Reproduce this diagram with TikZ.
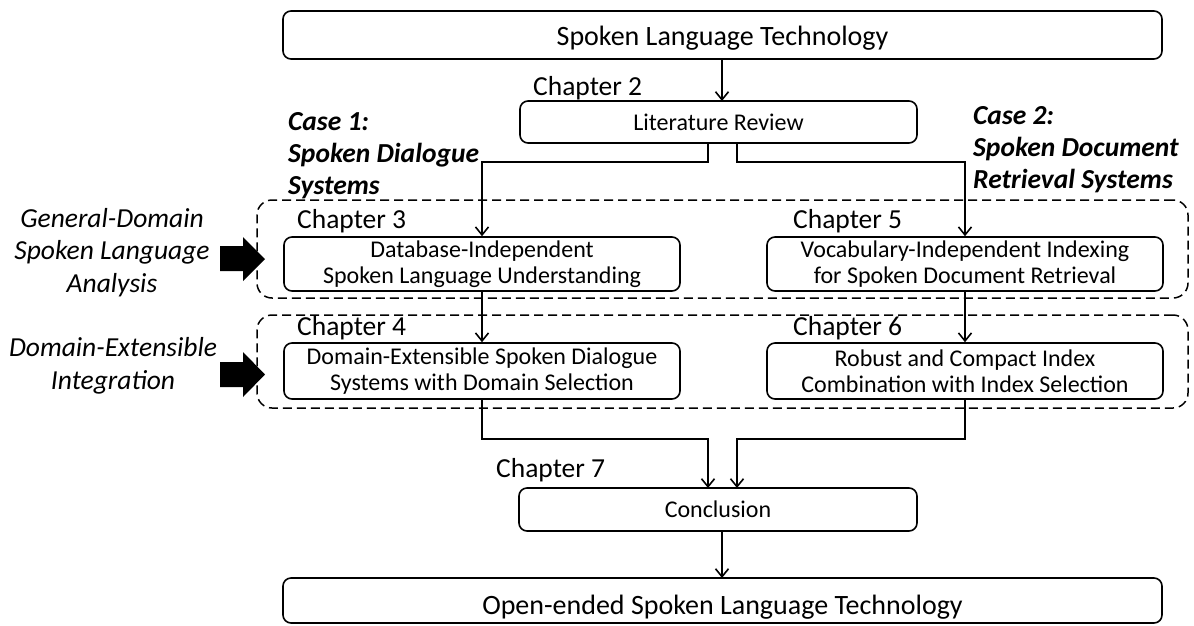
\documentclass[tikz,border=0pt]{standalone}
\usepackage{fontspec}
\setmainfont{Carlito}
\usetikzlibrary{arrows.meta}
\begin{document}
\begin{tikzpicture}[x=1pt,y=-1pt,
  box/.style={draw,line width=1.6pt,rounded corners=8pt,inner sep=0pt,
    font=\fontsize{24}{26}\selectfont,align=center},
  wide/.style={box,minimum width=879pt,font=\fontsize{28}{30}\selectfont},
  zone/.style={draw,line width=1.5pt,rounded corners=15pt,dash pattern=on 9pt off 5pt,
    minimum width=931pt,inner sep=0pt},
  link/.style={line width=1.6pt,-{Straight Barb[length=8pt,width=13pt,line width=1.6pt]}},
  chap/.style={font=\fontsize{27.5}{30}\selectfont,inner sep=0pt,anchor=base west},
  casetext/.style={font=\fontsize{27.5}{32}\selectfont\bfseries\itshape,align=left,
    inner sep=0pt,anchor=north west},
  sidetext/.style={font=\fontsize{27.5}{32.5}\selectfont\itshape,align=center,inner sep=0pt},
  bigarrow/.style={fill=black}
]
\useasboundingbox (0,0) rectangle (1194,625);

% dashed groups
\node[zone,minimum height=98pt] (g1) at (722.5,249) {};
\node[zone,minimum height=93pt] (g2) at (722.5,361.5) {};

% boxes
\node[wide,minimum height=48pt,text height=20pt,text depth=0pt] (slt) at (722.5,35) {Spoken Language Technology};
\node[box,minimum width=397pt,minimum height=42pt] (lr) at (718.5,122) {Literature Review};
\node[box,minimum width=396pt,minimum height=54pt] (c3) at (482,264) {Database-Independent\\Spoken Language Understanding};
\node[box,minimum width=396pt,minimum height=54pt] (c5) at (965,264) {Vocabulary-Independent Indexing\\for Spoken Document Retrieval};
\node[box,minimum width=396pt,minimum height=56pt] (c4) at (482,371) {Domain-Extensible Spoken Dialogue\\Systems with Domain Selection};
\node[box,minimum width=396pt,minimum height=56pt] (c6) at (965,371) {Robust and Compact Index\\Combination with Index Selection};
\node[box,minimum width=398pt,minimum height=43pt] (cc) at (718,509.5) {Conclusion};
\node[wide,minimum height=45pt,text height=27pt,text depth=0pt] (oslt) at (722.5,600.5) {Open-ended Spoken Language Technology};

% chapter labels
\node[chap] (ch2) at (533,95) {Chapter 2};
\node[chap] (ch3) at (297,228) {Chapter 3};
\node[chap] (ch5) at (793,228) {Chapter 5};
\node[chap] (ch4) at (297,335) {Chapter 4};
\node[chap] (ch6) at (793,335) {Chapter 6};
\node[chap] (ch7) at (496,477) {Chapter 7};

% case headings
\node[casetext] (case1) at (288,112) {Case 1:\\Spoken Dialogue\\Systems};
\node[casetext] (case2) at (973,106) {Case 2:\\Spoken Document\\Retrieval Systems};

% side labels
\node[sidetext] (gen) at (112,252.5) {General-Domain\\Spoken Language\\Analysis};
\node[sidetext] (ext) at (113,366) {Domain-Extensible\\Integration};

% block arrows
\fill[bigarrow] (220,246) -- (243,246) -- (243,237) -- (265,259) -- (243,281) -- (243,271) -- (220,271) -- cycle;
\fill[bigarrow] (220,362) -- (243,362) -- (243,352) -- (265,374.5) -- (243,397) -- (243,387) -- (220,387) -- cycle;

% connector end points
\coordinate (sltout) at (722,59);
\coordinate (lrin) at (722,101);
\coordinate (lrl) at (708,143);
\coordinate (lrr) at (737,143);
\coordinate (ccl) at (708,488);
\coordinate (ccr) at (737,488);
\coordinate (ccout) at (722,531);
\coordinate (osltin) at (722,578);

% connectors
\draw[link] (sltout) -- (lrin);
\draw[link] (lrl) |- (482,162) -- (c3.north);
\draw[link] (lrr) |- (965,162) -- (c5.north);
\draw[link] (c3.south) -- (c4.north);
\draw[link] (c5.south) -- (c6.north);
\draw[link] (c4.south) |- (708,439) -- (ccl);
\draw[link] (c6.south) |- (737,439) -- (ccr);
\draw[link] (ccout) -- (osltin);
\end{tikzpicture}
\end{document}
